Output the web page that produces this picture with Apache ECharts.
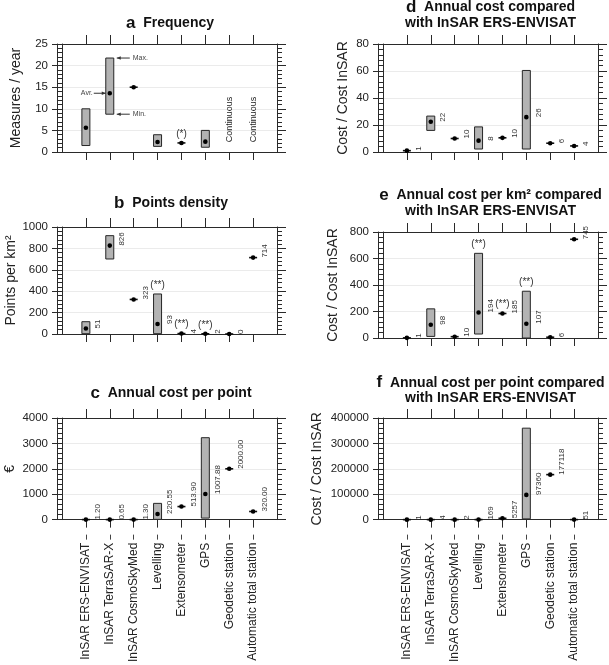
<!DOCTYPE html>
<html><head><meta charset="utf-8">
<script src="https://cdn.jsdelivr.net/npm/echarts@6/dist/echarts.min.js"></script>
<style>html,body{margin:0;padding:0;background:#fff}#c{width:609px;height:665px}</style>
</head><body><div id="c"></div>
<script>
const categories = ['InSAR ERS-ENVISAT','InSAR TerraSAR-X','InSAR CosmoSkyMed','Levelling','Extensometer','GPS','Geodetic station','Automatic total station'];

// a  Frequency (measures / year): min, max, average
const freqMin = [1.5, 8.75, 15, 1.3, 2.1, 1.1, null, null];
const freqMax = [10, 21.75, 15, 4, 2.1, 5, null, null];
const freqAvg = [5.6, 13.6, 15, 2.3, 2.1, 2.4, null, null];
const freqNotes = ['', '', '', '', '(*)', '', '', ''];
const freqText = ['', '', '', '', '', '', 'Continuous', 'Continuous'];
const freqTicks = [0, 5, 10, 15, 20, 25];

// b  Points density (points per km2)
const densMin = [3, 701, 323, 3, 4, 2, 0, 714];
const densMax = [115, 919, 323, 374, 4, 2, 0, 714];
const densAvg = [51, 826, 323, 93, 4, 2, 0, 714];
const densLabels = ['51', '826', '323', '93', '4', '2', '0', '714'];
const densNotes = ['', '', '', '(**)', '(**)', '(**)', '', ''];
const densTicks = [0, 200, 400, 600, 800, 1000];

// c  Annual cost per point (EUR)
const pointMin = [1.2, 0.65, 1.3, 10, 513.9, 60, 2000, 320];
const pointMax = [1.2, 0.65, 1.3, 640, 513.9, 3225, 2000, 320];
const pointAvg = [1.2, 0.65, 1.3, 220.55, 513.9, 1007.88, 2000, 320];
const pointLabels = ['1.20', '0.65', '1.30', '220.55', '513.90', '1007.88', '2000.00', '320.00'];
const pointTicks = [0, 1000, 2000, 3000, 4000];

// d  Annual cost compared with InSAR ERS-ENVISAT
const costMin = [1, 16, 10, 2.2, 10.5, 2.2, 6.5, 4.5];
const costMax = [1, 26.6, 10, 18.6, 10.5, 60.4, 6.5, 4.5];
const costAvg = [1, 22.4, 10, 8.4, 10.5, 25.8, 6.5, 4.5];
const costLabels = ['1', '22', '10', '8', '10', '26', '6', '4'];
const costTicks = [0, 20, 40, 60, 80];

// e  Annual cost per km2 compared with InSAR ERS-ENVISAT
const areaMin = [1, 12, 10, 30, 185, 0, 6, 745];
const areaMax = [1, 220, 10, 639, 185, 353, 6, 745];
const areaAvg = [1, 100, 10, 193, 185, 108, 6, 745];
const areaLabels = ['1', '98', '10', '194', '185', '107', '6', '745'];
const areaNotes = ['', '', '', '(**)', '(**)', '(**)', '', ''];
const areaTicks = [0, 200, 400, 600, 800];

// f  Annual cost per point compared with InSAR ERS-ENVISAT
const ratioMin = [1, 4, 2, 169, 5257, 3000, 177118, 51];
const ratioMax = [1, 4, 2, 169, 5257, 360000, 177118, 51];
const ratioAvg = [1, 4, 2, 169, 5257, 97360, 177118, 51];
const ratioLabels = ['1', '4', '2', '169', '5257', '97360', '177118', '51'];
const ratioTicks = [0, 100000, 200000, 300000, 400000];

const F = "'Liberation Sans', Arial, Helvetica, sans-serif";
const INK = '#2a2a2a';

const panels = [
  {letter:'a', title:'Frequency', min:freqMin, max:freqMax, avg:freqAvg, notes:freqNotes, text:freqText, textAt:7.5, ticks:freqTicks,
   yName:'Measures / year', nameGap:39, box:[62,44,215,108], tx:170, ty:23, showX:false, annot:true},
  {letter:'b', title:'Points density', min:densMin, max:densMax, avg:densAvg, labels:densLabels, notes:densNotes, ticks:densTicks,
   yName:'Points per km²', nameGap:39, box:[62,227,215,107], tx:171, ty:203, showX:false},
  {letter:'c', title:'Annual cost per point', min:pointMin, max:pointMax, avg:pointAvg, labels:pointLabels, ticks:pointTicks,
   yName:'€', nameGap:45, box:[62,418,215,106], tx:171, ty:393, showX:true},
  {letter:'d', title:'Annual cost compared', title2:'with InSAR ERS-ENVISAT', min:costMin, max:costMax, avg:costAvg, labels:costLabels, ticks:costTicks,
   yName:'Cost / Cost InSAR', nameGap:33, box:[383,44,215,108], tx:490.5, ty:15, showX:false},
  {letter:'e', title:'Annual cost per km² compared', title2:'with InSAR ERS-ENVISAT', min:areaMin, max:areaMax, avg:areaAvg, labels:areaLabels, notes:areaNotes, ticks:areaTicks,
   yName:'Cost / Cost InSAR', nameGap:43, box:[383,232,215,106], tx:490.5, ty:203, showX:false},
  {letter:'f', title:'Annual cost per point compared', title2:'with InSAR ERS-ENVISAT', min:ratioMin, max:ratioMax, avg:ratioAvg, labels:ratioLabels, ticks:ratioTicks,
   yName:'Cost / Cost InSAR', nameGap:59, box:[383,418,215,106], tx:490.5, ty:390.5, showX:true}
];

function arrow(x1, y, x2, kids) {
  kids.push({type:'line', shape:{x1:x1, y1:y, x2:x2, y2:y}, style:{stroke:'#333', lineWidth:1}});
  const d = x2 > x1 ? -4 : 4;
  kids.push({type:'polygon', shape:{points:[[x2, y], [x2 + d, y - 1.8], [x2 + d, y + 1.8]]}, style:{fill:'#333'}});
}

function renderer(p) {
  return function (params, api) {
    const i = params.dataIndex;
    const xv = i + 1;
    const cx = api.coord([xv, 0])[0];
    const kids = [];
    const hw = 4;
    if (p.min[i] != null) {
      const yMin = api.coord([xv, p.min[i]])[1];
      const yMax = api.coord([xv, p.max[i]])[1];
      const yAvg = api.coord([xv, p.avg[i]])[1];
      if (yMin - yMax > 1) {
        kids.push({type:'rect', shape:{x:cx - hw, y:yMax, width:2 * hw, height:yMin - yMax},
          style:{fill:'#b3b3b3', stroke:'#262626', lineWidth:1}});
      } else {
        kids.push({type:'line', shape:{x1:cx - hw, y1:yAvg, x2:cx + hw, y2:yAvg}, style:{stroke:'#111', lineWidth:1.6}});
      }
      kids.push({type:'circle', shape:{cx:cx, cy:yAvg, r:2.3}, style:{fill:'#000'}});
      if (p.labels && p.labels[i]) {
        kids.push({type:'text', x:cx + 12, y:yAvg, rotation:Math.PI / 2,
          style:{text:p.labels[i], font:'8px ' + F, fill:'#333', align:'left', verticalAlign:'middle', textAlign:'left', textVerticalAlign:'middle'}});
      }
      if (p.notes && p.notes[i]) {
        kids.push({type:'text', x:cx, y:yMax - 9,
          style:{text:p.notes[i], font:'10px ' + F, fill:'#333', align:'center', verticalAlign:'middle', textAlign:'center', textVerticalAlign:'middle'}});
      }
      if (p.annot && i === 1) {
        arrow(cx + 20, yMax, cx + 7, kids);
        kids.push({type:'text', x:cx + 23, y:yMax, style:{text:'Max.', font:'7px ' + F, fill:'#444', align:'left', verticalAlign:'middle', textAlign:'left', textVerticalAlign:'middle'}});
        arrow(cx + 20, yMin, cx + 7, kids);
        kids.push({type:'text', x:cx + 23, y:yMin, style:{text:'Min.', font:'7px ' + F, fill:'#444', align:'left', verticalAlign:'middle', textAlign:'left', textVerticalAlign:'middle'}});
        arrow(cx - 16, yAvg, cx - 4, kids);
        kids.push({type:'text', x:cx - 17, y:yAvg, style:{text:'Avr.', font:'7px ' + F, fill:'#444', align:'right', verticalAlign:'middle', textAlign:'right', textVerticalAlign:'middle'}});
      }
    }
    if (p.text && p.text[i]) {
      const yT = api.coord([xv, p.textAt])[1];
      kids.push({type:'text', x:cx, y:yT, rotation:Math.PI / 2,
        style:{text:p.text[i], font:'9px ' + F, fill:'#222', align:'center', verticalAlign:'middle', textAlign:'center', textVerticalAlign:'middle'}});
    }
    return {type:'group', children:kids};
  };
}

const grids = [], xAxes = [], yAxes = [], series = [], graphics = [];
const xData = [''].concat(categories, ['']);
const inner = function (idx) { return idx >= 1 && idx <= categories.length; };
const line = {color:INK, width:1};

panels.forEach(function (p, k) {
  grids.push({left:p.box[0], top:p.box[1], width:p.box[2], height:p.box[3], containLabel:false});
  const xMain = xAxes.length;
  xAxes.push({type:'category', gridIndex:k, data:xData, boundaryGap:false, position:'bottom',
    axisLine:{show:true, onZero:false, lineStyle:line},
    axisTick:{show:true, interval:inner, length:8, lineStyle:line},
    axisLabel:{show:p.showX, interval:inner, rotate:90, fontSize:12, fontFamily:F, color:'#222', margin:23},
    splitLine:{show:false}});
  xAxes.push({type:'category', gridIndex:k, data:xData, boundaryGap:false, position:'top',
    axisLine:{show:true, onZero:false, lineStyle:line},
    axisTick:{show:true, interval:inner, length:9, lineStyle:line},
    axisLabel:{show:false}, splitLine:{show:false}});
  if (p.showX) {
    xAxes.push({type:'category', gridIndex:k, data:xData, boundaryGap:false, position:'bottom', offset:15,
      axisLine:{show:false, onZero:false},
      axisTick:{show:true, interval:inner, length:5, lineStyle:{color:'#444', width:1}},
      axisLabel:{show:false}, splitLine:{show:false}});
  }
  const lo = p.ticks[0], hi = p.ticks[p.ticks.length - 1], step = p.ticks[1] - p.ticks[0];
  const yMain = yAxes.length;
  yAxes.push({type:'value', gridIndex:k, min:lo, max:hi, interval:step, position:'left',
    axisLine:{show:true, onZero:false, lineStyle:line},
    axisTick:{show:true, length:10, lineStyle:line},
    minorTick:{show:true, splitNumber:5, length:5, lineStyle:line},
    axisLabel:{fontSize:11.5, fontFamily:F, color:'#222', margin:14, formatter:function (v) { return String(v); }},
    splitLine:{show:true, lineStyle:{color:'#ebebeb', width:1}},
    name:p.yName, nameLocation:'middle', nameGap:p.nameGap,
    nameTextStyle:{fontSize:14, fontFamily:F, color:'#222'}});
  yAxes.push({type:'value', gridIndex:k, min:lo, max:hi, interval:step, position:'left', offset:5,
    axisLine:{show:true, onZero:false, lineStyle:line},
    axisTick:{show:false}, axisLabel:{show:false}, splitLine:{show:false}});
  yAxes.push({type:'value', gridIndex:k, min:lo, max:hi, interval:step, position:'right',
    axisLine:{show:true, onZero:false, lineStyle:line},
    axisTick:{show:true, length:9, lineStyle:line},
    minorTick:{show:true, splitNumber:5, length:5, lineStyle:line},
    axisLabel:{show:false}, splitLine:{show:false}});
  series.push({type:'custom', xAxisIndex:xMain, yAxisIndex:yMain, renderItem:renderer(p), clip:false, silent:true, z:5,
    data:categories.map(function (c, i) { return [i + 1, p.avg[i] == null ? 0 : p.avg[i]]; })});
  let txt = '{l|' + p.letter + '}  {t|' + p.title + '}';
  if (p.title2) txt += '\n{t|' + p.title2 + '}';
  graphics.push({type:'text', x:p.tx, y:p.ty, silent:true,
    style:{text:txt, align:'center', verticalAlign:'middle', textAlign:'center', textVerticalAlign:'middle',
      fontFamily:F, fontWeight:'bold', fontSize:14, fill:'#111',
      rich:{l:{fontSize:17, fontWeight:'bold', fontFamily:F, lineHeight:15.5, fill:'#111'},
            t:{fontSize:14, fontWeight:'bold', fontFamily:F, lineHeight:15.5, fill:'#111'}}}});
});

const chart = echarts.init(document.getElementById('c'), null, {renderer:'canvas', width:609, height:665});
chart.setOption({
  animation:false,
  backgroundColor:'#ffffff',
  grid:grids, xAxis:xAxes, yAxis:yAxes, series:series, graphic:graphics
});
</script>
</body></html>
